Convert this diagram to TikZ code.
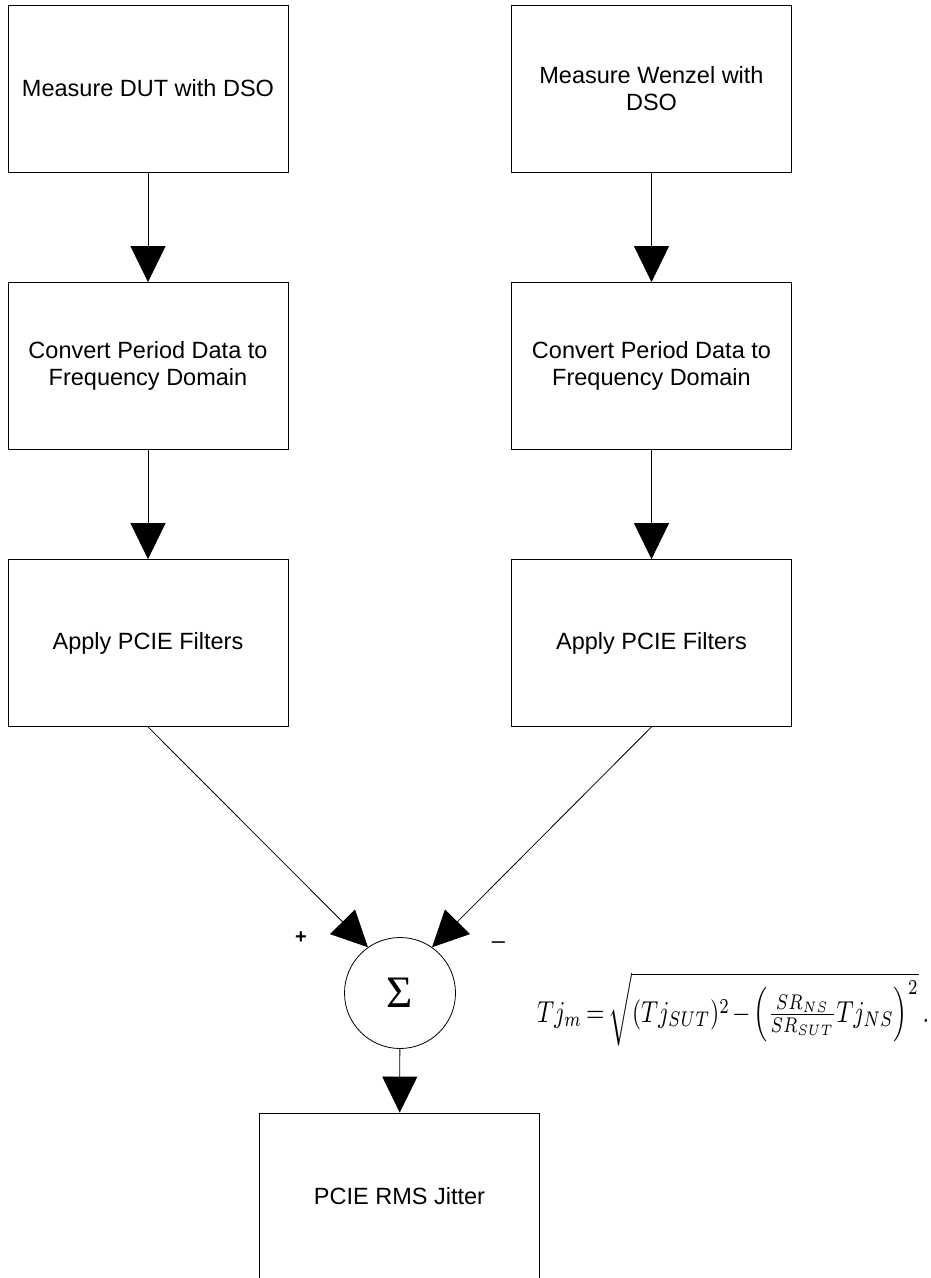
\documentclass[tikz,border=0pt]{standalone}
\usepackage[no-math]{fontspec}
\setmainfont{Liberation Sans}
\newfontfamily\sigmafont{Liberation Serif}
\usepackage{amsmath}
\usepackage{graphicx}
\usetikzlibrary{positioning,calc,arrows.meta,shapes}

\begin{document}
\begin{tikzpicture}[
    x=1pt, y=-1pt,
    box/.style={rectangle, draw, line width=0.8pt, minimum width=280pt, minimum height=167pt, inner sep=0pt, align=center, font=\fontsize{23.5}{27}\selectfont},
    adder/.style={circle, draw, line width=0.8pt, minimum size=111pt, inner sep=0pt, font=\sigmafont\fontsize{45}{45}\selectfont},
    flow/.style={draw, line width=0.8pt, -{Triangle[length=36pt, width=35pt]}}
]
\useasboundingbox (0,0) rectangle (931,1278);

% Left chain
\node[box] (dut) at (148,88.5) {Measure DUT with DSO};
\node[box] (convl) at (148,366) {Convert Period Data to\\Frequency Domain};
\node[box] (filtl) at (148,643) {Apply PCIE Filters};

% Right chain
\node[box] (wen) at (651.5,88.5) {Measure Wenzel with\\DSO};
\node[box] (convr) at (651.5,366) {Convert Period Data to\\Frequency Domain};
\node[box] (filtr) at (651.5,643) {Apply PCIE Filters};

% Sum and result
\node[adder] (sigma) at (400,993) {Σ};
\node[box] (jitter) at (399.5,1196.5) {PCIE RMS Jitter};

% Signs
\node[font=\fontsize{20}{20}\selectfont\bfseries] (plus) at (301,938) {+};
\node[font=\fontsize{23.5}{24}\selectfont] (minus) at (498.5,945) {–};

% Formula
\node[anchor=base west, inner sep=0pt] (formula) at (537,1022) {\resizebox*{392pt}{74pt}{\medmuskip=2mu\thickmuskip=3mu$Tj_m=\sqrt{(Tj_{SUT})^2-\left(\tfrac{SR_{NS}}{SR_{SUT}}Tj_{NS}\right)^2}\,.$}};

% Transitions
\draw[flow] (dut) -- (convl);
\draw[flow] (convl) -- (filtl);
\draw[flow] (wen) -- (convr);
\draw[flow] (convr) -- (filtr);
\draw[flow] (filtl.south) -- (sigma.125);
\draw[flow] (filtr.south) -- (sigma.55);
\draw[flow] (sigma) -- (jitter);

\end{tikzpicture}
\end{document}
